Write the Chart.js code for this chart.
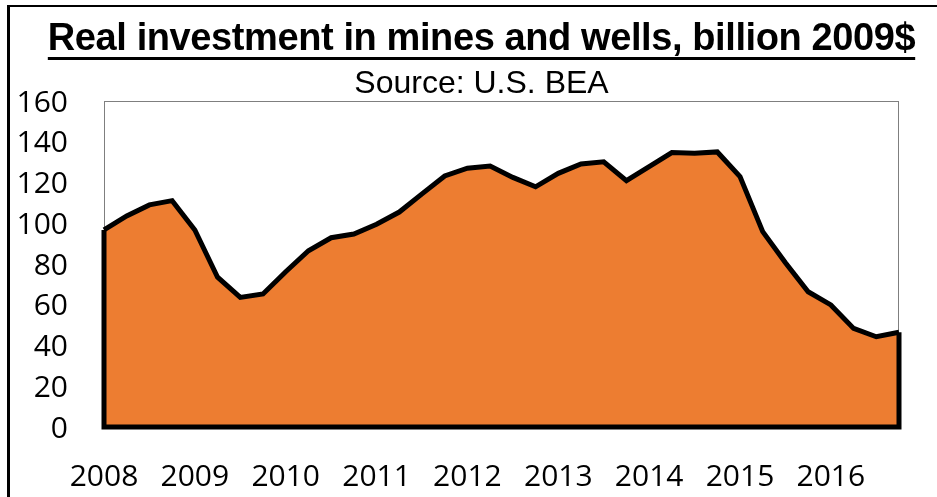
<!DOCTYPE html>
<html>
<head>
<meta charset="utf-8">
<script src="https://cdn.jsdelivr.net/npm/chart.js@4.4.1/dist/chart.umd.min.js"></script>
<style>
    html, body { margin: 0; padding: 0; background: #fff; overflow: hidden; }
    #wrap { position: relative; width: 937px; height: 497px; overflow: hidden; }
    #frame {
        position: absolute; left: 7px; top: 5px; width: 1000px; height: 600px;
        border-left: 3px solid #000; border-top: 2px solid #000;
    }
    #chart { position: absolute; left: 0; top: 0; }
    .heading {
        position: absolute; left: 481.5px; transform: translateX(-50%);
        white-space: nowrap; font-family: "Liberation Sans", Arial, sans-serif; color: #000;
    }
    #title {
        top: 18px; font-size: 38px; line-height: 38px; font-weight: bold; letter-spacing: -0.4px;
        text-decoration: underline; text-decoration-thickness: 3px; text-underline-offset: 7px;
    }
    #subtitle { top: 66px; font-size: 32px; line-height: 32px; }
</style>
</head>
<body>
<div id="wrap">
    <div id="frame"></div>
    <canvas id="chart" width="937" height="497"></canvas>
    <div id="title" class="heading">Real investment in mines and wells, billion 2009$</div>
    <div id="subtitle" class="heading">Source: U.S. BEA</div>
</div>
<script>
// Kvartallik ma'lumotlar, 2008 Q1 - 2016 Q4
const years = ['2008', '2009', '2010', '2011', '2012', '2013', '2014', '2015', '2016'];
const quarters = ['Q1', 'Q2', 'Q3', 'Q4'];
const investment = [
    96.7, 103.6, 109.0, 111.1,
    96.7, 73.5, 63.6, 65.3,
    76.2, 86.5, 92.9, 94.7,
    99.5, 105.5, 114.4, 123.2,
    127.0, 128.1, 122.5, 117.9,
    124.5, 129.1, 130.2, 120.9,
    127.8, 134.7, 134.3, 135.0,
    122.9, 95.9, 80.6, 66.4,
    59.9, 48.4, 44.3, 46.5
];
const yTicks = [0, 20, 40, 60, 80, 100, 120, 140, 160];

const categories = [];
years.forEach(y => quarters.forEach(q => categories.push(y + ' ' + q)));

const labelFont = { family: '"Open Sans", sans-serif', size: 30 };

// Chizma maydoni atrofidagi ingichka kulrang ramka
const plotFrame = {
    id: 'plotFrame',
    beforeDatasetsDraw(chart) {
        const { ctx, chartArea: a } = chart;
        ctx.save();
        ctx.strokeStyle = '#7f7f7f';
        ctx.lineWidth = 1;
        ctx.strokeRect(a.left + 0.5, a.top + 0.5, a.right - a.left - 1, a.bottom - a.top);
        ctx.restore();
    }
};

// Maydonning chap, past va o'ng qirralari
const areaEdges = {
    id: 'areaEdges',
    afterDatasetsDraw(chart) {
        const pts = chart.getDatasetMeta(0).data;
        const y0 = chart.scales.y.getPixelForValue(0);
        const first = pts[0], last = pts[pts.length - 1];
        const ctx = chart.ctx;
        ctx.save();
        ctx.strokeStyle = '#000';
        ctx.lineWidth = 5;
        ctx.lineJoin = 'miter';
        ctx.beginPath();
        ctx.moveTo(first.x, first.y);
        ctx.lineTo(first.x, y0);
        ctx.lineTo(last.x, y0);
        ctx.lineTo(last.x, last.y);
        ctx.stroke();
        ctx.restore();
    }
};

new Chart(document.getElementById('chart'), {
    type: 'line',
    data: {
        labels: categories,
        datasets: [{
            data: investment,
            fill: 'origin',
            backgroundColor: '#ed7d31',
            borderColor: '#000',
            borderWidth: 5,
            pointRadius: 0,
            tension: 0
        }]
    },
    options: {
        responsive: false,
        devicePixelRatio: 1,
        animation: false,
        layout: { padding: { left: 0, right: 38, top: 101, bottom: 0 } },
        plugins: {
            legend: { display: false },
            tooltip: { enabled: false }
        },
        scales: {
            x: {
                grid: { display: false, drawTicks: false },
                border: { display: false },
                ticks: {
                    autoSkip: false,
                    maxRotation: 0,
                    padding: 32,
                    color: '#000',
                    font: labelFont,
                    callback: (v, i) => i % 4 === 0 ? years[i / 4] : ''
                },
                afterFit: s => { s.height = 70; }
            },
            y: {
                min: 0,
                max: 160,
                grid: { display: false, drawTicks: false },
                border: { display: false },
                afterBuildTicks: s => { s.ticks = yTicks.map(v => ({ value: v })); },
                ticks: { padding: 36, labelOffset: 2, color: '#000', font: labelFont },
                afterFit: s => { s.width = 104; }
            }
        }
    },
    plugins: [plotFrame, areaEdges]
});
</script>
</body>
</html>
